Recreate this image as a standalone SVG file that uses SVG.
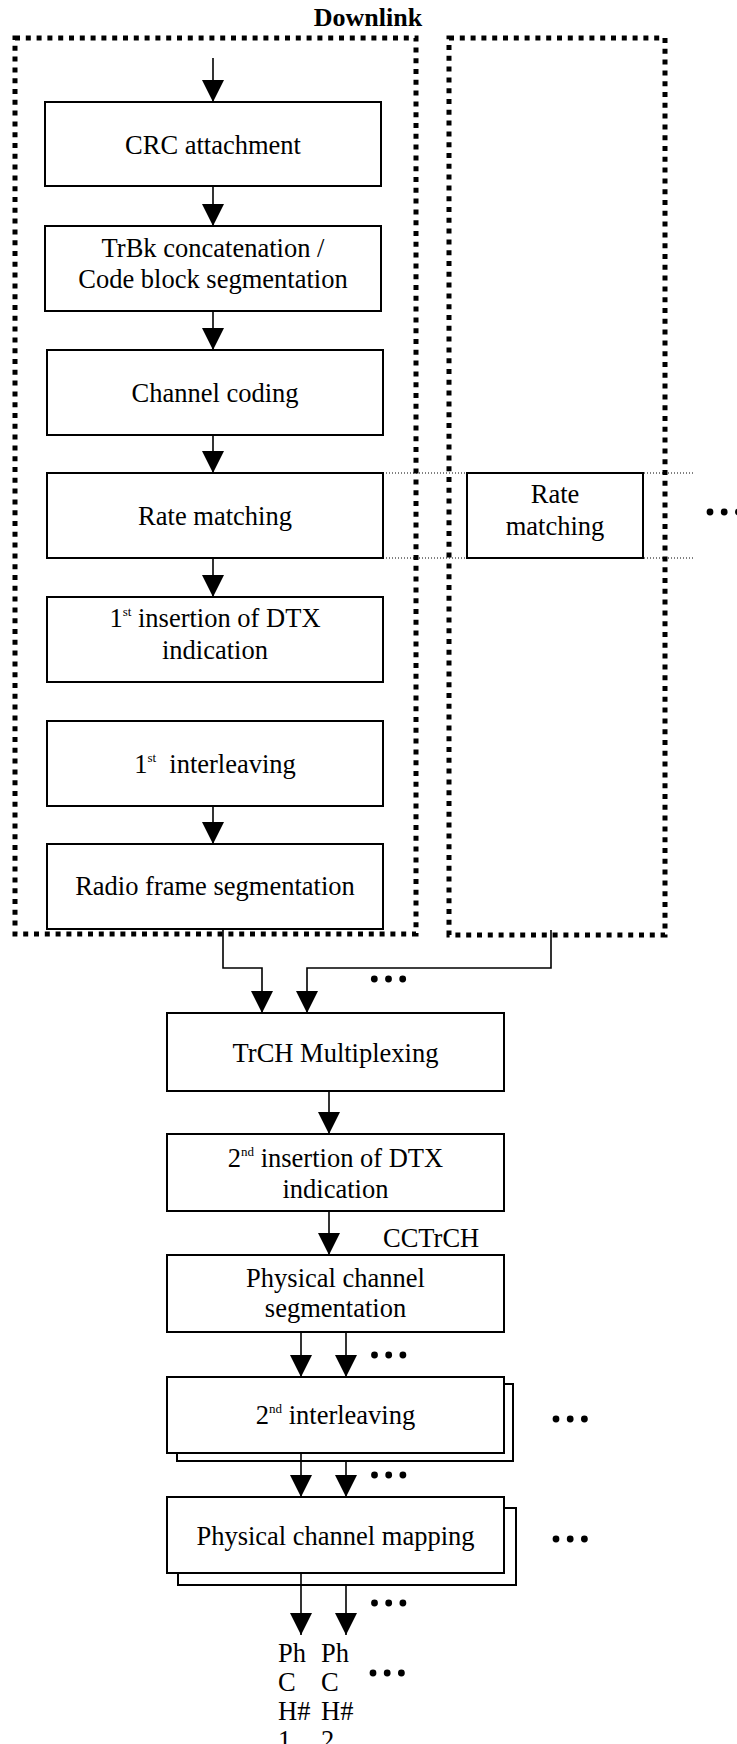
<svg xmlns="http://www.w3.org/2000/svg" width="737" height="1744" viewBox="0 0 737 1744">
<style>
text{font-family:"Liberation Serif","Times New Roman",serif;font-size:26.5px;fill:#000}
.t{text-anchor:middle}
.b{font-weight:bold;font-size:26px}
.box{fill:#fff;stroke:#000;stroke-width:2}
.dash{fill:none;stroke:#000;stroke-width:5;stroke-dasharray:5 5.8}
.dot{fill:none;stroke:#000;stroke-width:1;stroke-dasharray:1 2}
.c{fill:none;stroke:#000;stroke-width:1.6}
.ar{marker-end:url(#ah)}
.sup{font-size:13px}
</style>
<defs>
<marker id="ah" viewBox="0 0 22 22" refX="22" refY="11" markerWidth="22" markerHeight="22" markerUnits="userSpaceOnUse" orient="auto">
<path d="M0,0 L22,11 L0,22 z" fill="#000"/>
</marker>
<g id="dots3"><circle cx="0" cy="0" r="3.4"/><circle cx="14.2" cy="0" r="3.4"/><circle cx="28.4" cy="0" r="3.4"/></g>
</defs>
<rect width="737" height="1744" fill="#fff"/>

<text class="t b" x="368" y="26">Downlink</text>

<g id="group-left"><rect class="dash" x="15" y="38" width="401" height="896"/></g>
<g id="group-right"><rect class="dash" x="449" y="38" width="216" height="897"/></g>

<g id="dotted-guides">
<line class="dot" x1="383" y1="473" x2="695" y2="473"/>
<line class="dot" x1="383" y1="558" x2="695" y2="558"/>
</g>

<g id="n-crc"><rect class="box" x="45" y="102" width="336" height="84"/><text class="t" x="213" y="154">CRC attachment</text></g>
<g id="n-trbk"><rect class="box" x="45" y="226" width="336" height="85"/><text class="t" x="213" y="257">TrBk concatenation /</text><text class="t" x="213" y="288">Code block segmentation</text></g>
<g id="n-coding"><rect class="box" x="47" y="350" width="336" height="85"/><text class="t" x="215" y="402">Channel coding</text></g>
<g id="n-rm"><rect class="box" x="47" y="473" width="336" height="85"/><text class="t" x="215" y="525">Rate matching</text></g>
<g id="n-dtx1"><rect class="box" x="47" y="597" width="336" height="85"/><text class="t" x="215" y="627">1<tspan class="sup" dy="-11">st</tspan><tspan dy="11"> insertion of DTX</tspan></text><text class="t" x="215" y="659">indication</text></g>
<g id="n-il1"><rect class="box" x="47" y="721" width="336" height="85"/><text class="t" x="215" y="773">1<tspan class="sup" dy="-11">st</tspan><tspan dy="11">&#160; interleaving</tspan></text></g>
<g id="n-rfs"><rect class="box" x="47" y="844" width="336" height="85"/><text class="t" x="215" y="895">Radio frame segmentation</text></g>

<g id="n-rm2"><rect class="box" x="467" y="473" width="176" height="85"/><text class="t" x="555" y="503">Rate</text><text class="t" x="555" y="535">matching</text></g>

<g id="n-mux"><rect class="box" x="167" y="1013" width="337" height="78"/><text class="t" x="335.5" y="1062">TrCH Multiplexing</text></g>
<g id="n-dtx2"><rect class="box" x="167" y="1134" width="337" height="77"/><text class="t" x="335.5" y="1167">2<tspan class="sup" dy="-11">nd</tspan><tspan dy="11"> insertion of DTX</tspan></text><text class="t" x="335.5" y="1198">indication</text></g>
<g id="n-pcs"><rect class="box" x="167" y="1255" width="337" height="77"/><text class="t" x="335.5" y="1287">Physical channel</text><text class="t" x="335.5" y="1317">segmentation</text></g>
<g id="n-il2"><rect class="box" x="177" y="1384" width="336" height="77"/><rect class="box" x="167" y="1377" width="337" height="76"/><text class="t" x="335.5" y="1424">2<tspan class="sup" dy="-11">nd</tspan><tspan dy="11"> interleaving</tspan></text></g>
<g id="n-pcm"><rect class="box" x="178" y="1508" width="338" height="77"/><rect class="box" x="167" y="1497" width="337" height="76"/><text class="t" x="335.5" y="1545">Physical channel mapping</text></g>

<g id="connectors">
<line class="c ar" x1="213" y1="58" x2="213" y2="102"/>
<line class="c ar" x1="213" y1="186" x2="213" y2="226"/>
<line class="c ar" x1="213" y1="311" x2="213" y2="350"/>
<line class="c ar" x1="213" y1="435" x2="213" y2="473"/>
<line class="c ar" x1="213" y1="558" x2="213" y2="597"/>
<line class="c ar" x1="213" y1="806" x2="213" y2="844"/>
<polyline class="c ar" points="223,929 223,968 262,968 262,1013"/>
<polyline class="c ar" points="551,930 551,968 307,968 307,1013"/>
<line class="c ar" x1="329" y1="1091" x2="329" y2="1134"/>
<line class="c ar" x1="329" y1="1211" x2="329" y2="1255"/>
<line class="c ar" x1="301" y1="1332" x2="301" y2="1377"/>
<line class="c ar" x1="346" y1="1332" x2="346" y2="1377"/>
<line class="c ar" x1="301" y1="1453" x2="301" y2="1497"/>
<line class="c ar" x1="346" y1="1461" x2="346" y2="1497"/>
<line class="c ar" x1="301" y1="1573" x2="301" y2="1635"/>
<line class="c ar" x1="346" y1="1585" x2="346" y2="1635"/>
</g>

<g id="ellipses" fill="#000">
<use href="#dots3" x="710" y="512"/>
<use href="#dots3" x="374.3" y="979"/>
<use href="#dots3" x="374.5" y="1355"/>
<use href="#dots3" x="556" y="1419"/>
<use href="#dots3" x="374.5" y="1475"/>
<use href="#dots3" x="556" y="1539"/>
<use href="#dots3" x="374.5" y="1603"/>
<use href="#dots3" x="373" y="1673"/>
</g>

<g id="labels">
<text x="383" y="1247">CCTrCH</text>
<text x="278" y="1662">Ph</text><text x="278" y="1691">C</text><text x="278" y="1720">H#</text><text x="278" y="1749">1</text>
<text x="321" y="1662">Ph</text><text x="321" y="1691">C</text><text x="321" y="1720">H#</text><text x="321" y="1749">2</text>
</g>
</svg>
